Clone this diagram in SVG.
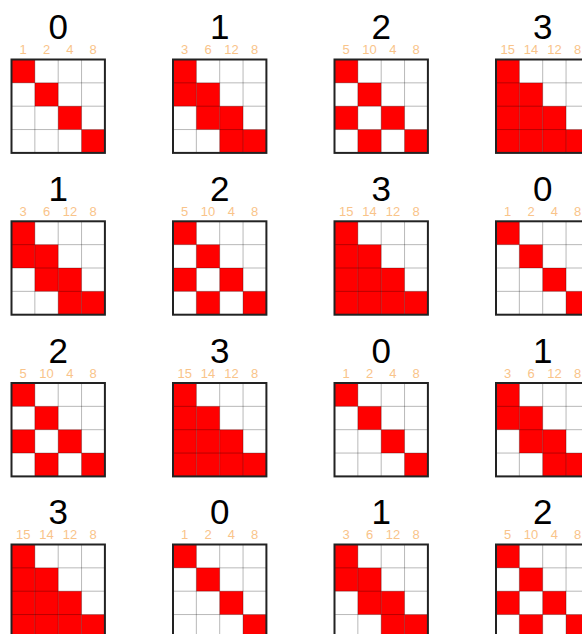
<svg xmlns="http://www.w3.org/2000/svg" xmlns:xlink="http://www.w3.org/1999/xlink" width="582" height="634" viewBox="0 0 582 634">
<style>
.big{font-family:"Liberation Sans",Arial,sans-serif;font-size:35px;fill:#000;text-anchor:middle}
.lbl{font-family:"Liberation Sans",Arial,sans-serif;font-size:13px;fill:#f9c48a;text-anchor:middle}
.red{fill:#ff0000}
.inner{stroke:#000;stroke-opacity:0.28;stroke-width:1;fill:none}
.border{fill:none;stroke:#222;stroke-width:2}
</style>
<defs>
<g id="grid">
<path class="inner" d="M23.35 0V93.4M46.7 0V93.4M70.05 0V93.4M0 23.35H93.4M0 46.7H93.4M0 70.05H93.4"/>
<rect class="border" x="0" y="0" width="93.4" height="93.4"/>
</g>
<g id="p0" class="red">
<rect x="0" y="0" width="23.35" height="23.35"/>
<rect x="23.35" y="23.35" width="23.35" height="23.35"/>
<rect x="46.7" y="46.7" width="23.35" height="23.35"/>
<rect x="70.05" y="70.05" width="23.35" height="23.35"/>
</g>
<g id="p1" class="red">
<rect x="0" y="0" width="23.35" height="46.7"/>
<rect x="23.35" y="23.35" width="23.35" height="46.7"/>
<rect x="46.7" y="46.7" width="23.35" height="46.7"/>
<rect x="70.05" y="70.05" width="23.35" height="23.35"/>
</g>
<g id="p2" class="red">
<rect x="0" y="0" width="23.35" height="23.35"/>
<rect x="0" y="46.7" width="23.35" height="23.35"/>
<rect x="23.35" y="23.35" width="23.35" height="23.35"/>
<rect x="23.35" y="70.05" width="23.35" height="23.35"/>
<rect x="46.7" y="46.7" width="23.35" height="23.35"/>
<rect x="70.05" y="70.05" width="23.35" height="23.35"/>
</g>
<g id="p3" class="red">
<rect x="0" y="0" width="23.35" height="93.4"/>
<rect x="23.35" y="23.35" width="23.35" height="70.05"/>
<rect x="46.7" y="46.7" width="23.35" height="46.7"/>
<rect x="70.05" y="70.05" width="23.35" height="23.35"/>
</g>
</defs>
<rect width="582" height="634" fill="#fff"/>

<!-- row 0 -->
<g id="m00" transform="translate(11.5,59.5)">
<text class="big" x="46.7" y="-20.5">0</text>
<text class="lbl" x="11.7" y="-5.5">1</text><text class="lbl" x="35" y="-5.5">2</text><text class="lbl" x="58.4" y="-5.5">4</text><text class="lbl" x="81.7" y="-5.5">8</text>
<use xlink:href="#p0"/><use xlink:href="#grid"/>
</g>
<g id="m01" transform="translate(173,59.5)">
<text class="big" x="46.7" y="-20.5">1</text>
<text class="lbl" x="11.7" y="-5.5">3</text><text class="lbl" x="35" y="-5.5">6</text><text class="lbl" x="58.4" y="-5.5">12</text><text class="lbl" x="81.7" y="-5.5">8</text>
<use xlink:href="#p1"/><use xlink:href="#grid"/>
</g>
<g id="m02" transform="translate(334.5,59.5)">
<text class="big" x="46.7" y="-20.5">2</text>
<text class="lbl" x="11.7" y="-5.5">5</text><text class="lbl" x="35" y="-5.5">10</text><text class="lbl" x="58.4" y="-5.5">4</text><text class="lbl" x="81.7" y="-5.5">8</text>
<use xlink:href="#p2"/><use xlink:href="#grid"/>
</g>
<g id="m03" transform="translate(496,59.5)">
<text class="big" x="46.7" y="-20.5">3</text>
<text class="lbl" x="11.7" y="-5.5">15</text><text class="lbl" x="35" y="-5.5">14</text><text class="lbl" x="58.4" y="-5.5">12</text><text class="lbl" x="81.7" y="-5.5">8</text>
<use xlink:href="#p3"/><use xlink:href="#grid"/>
</g>

<!-- row 1 -->
<g id="m10" transform="translate(11.5,221.3)">
<text class="big" x="46.7" y="-20.5">1</text>
<text class="lbl" x="11.7" y="-5.5">3</text><text class="lbl" x="35" y="-5.5">6</text><text class="lbl" x="58.4" y="-5.5">12</text><text class="lbl" x="81.7" y="-5.5">8</text>
<use xlink:href="#p1"/><use xlink:href="#grid"/>
</g>
<g id="m11" transform="translate(173,221.3)">
<text class="big" x="46.7" y="-20.5">2</text>
<text class="lbl" x="11.7" y="-5.5">5</text><text class="lbl" x="35" y="-5.5">10</text><text class="lbl" x="58.4" y="-5.5">4</text><text class="lbl" x="81.7" y="-5.5">8</text>
<use xlink:href="#p2"/><use xlink:href="#grid"/>
</g>
<g id="m12" transform="translate(334.5,221.3)">
<text class="big" x="46.7" y="-20.5">3</text>
<text class="lbl" x="11.7" y="-5.5">15</text><text class="lbl" x="35" y="-5.5">14</text><text class="lbl" x="58.4" y="-5.5">12</text><text class="lbl" x="81.7" y="-5.5">8</text>
<use xlink:href="#p3"/><use xlink:href="#grid"/>
</g>
<g id="m13" transform="translate(496,221.3)">
<text class="big" x="46.7" y="-20.5">0</text>
<text class="lbl" x="11.7" y="-5.5">1</text><text class="lbl" x="35" y="-5.5">2</text><text class="lbl" x="58.4" y="-5.5">4</text><text class="lbl" x="81.7" y="-5.5">8</text>
<use xlink:href="#p0"/><use xlink:href="#grid"/>
</g>

<!-- row 2 -->
<g id="m20" transform="translate(11.5,383)">
<text class="big" x="46.7" y="-20.5">2</text>
<text class="lbl" x="11.7" y="-5.5">5</text><text class="lbl" x="35" y="-5.5">10</text><text class="lbl" x="58.4" y="-5.5">4</text><text class="lbl" x="81.7" y="-5.5">8</text>
<use xlink:href="#p2"/><use xlink:href="#grid"/>
</g>
<g id="m21" transform="translate(173,383)">
<text class="big" x="46.7" y="-20.5">3</text>
<text class="lbl" x="11.7" y="-5.5">15</text><text class="lbl" x="35" y="-5.5">14</text><text class="lbl" x="58.4" y="-5.5">12</text><text class="lbl" x="81.7" y="-5.5">8</text>
<use xlink:href="#p3"/><use xlink:href="#grid"/>
</g>
<g id="m22" transform="translate(334.5,383)">
<text class="big" x="46.7" y="-20.5">0</text>
<text class="lbl" x="11.7" y="-5.5">1</text><text class="lbl" x="35" y="-5.5">2</text><text class="lbl" x="58.4" y="-5.5">4</text><text class="lbl" x="81.7" y="-5.5">8</text>
<use xlink:href="#p0"/><use xlink:href="#grid"/>
</g>
<g id="m23" transform="translate(496,383)">
<text class="big" x="46.7" y="-20.5">1</text>
<text class="lbl" x="11.7" y="-5.5">3</text><text class="lbl" x="35" y="-5.5">6</text><text class="lbl" x="58.4" y="-5.5">12</text><text class="lbl" x="81.7" y="-5.5">8</text>
<use xlink:href="#p1"/><use xlink:href="#grid"/>
</g>

<!-- row 3 -->
<g id="m30" transform="translate(11.5,544.5)">
<text class="big" x="46.7" y="-20.5">3</text>
<text class="lbl" x="11.7" y="-5.5">15</text><text class="lbl" x="35" y="-5.5">14</text><text class="lbl" x="58.4" y="-5.5">12</text><text class="lbl" x="81.7" y="-5.5">8</text>
<use xlink:href="#p3"/><use xlink:href="#grid"/>
</g>
<g id="m31" transform="translate(173,544.5)">
<text class="big" x="46.7" y="-20.5">0</text>
<text class="lbl" x="11.7" y="-5.5">1</text><text class="lbl" x="35" y="-5.5">2</text><text class="lbl" x="58.4" y="-5.5">4</text><text class="lbl" x="81.7" y="-5.5">8</text>
<use xlink:href="#p0"/><use xlink:href="#grid"/>
</g>
<g id="m32" transform="translate(334.5,544.5)">
<text class="big" x="46.7" y="-20.5">1</text>
<text class="lbl" x="11.7" y="-5.5">3</text><text class="lbl" x="35" y="-5.5">6</text><text class="lbl" x="58.4" y="-5.5">12</text><text class="lbl" x="81.7" y="-5.5">8</text>
<use xlink:href="#p1"/><use xlink:href="#grid"/>
</g>
<g id="m33" transform="translate(496,544.5)">
<text class="big" x="46.7" y="-20.5">2</text>
<text class="lbl" x="11.7" y="-5.5">5</text><text class="lbl" x="35" y="-5.5">10</text><text class="lbl" x="58.4" y="-5.5">4</text><text class="lbl" x="81.7" y="-5.5">8</text>
<use xlink:href="#p2"/><use xlink:href="#grid"/>
</g>
</svg>
